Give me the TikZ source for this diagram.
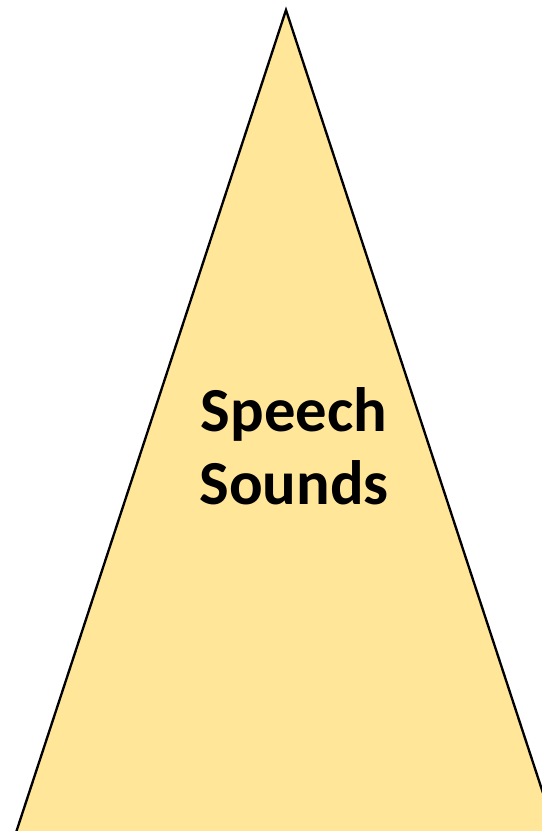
\documentclass[tikz,border=0pt]{standalone}
\usepackage{fontspec}
\setmainfont{Carlito}
\usepackage{tikz}
\usetikzlibrary{positioning,calc}

\begin{document}
\begin{tikzpicture}[
    x=0.75pt, y=-0.75pt,
    layer/.style={draw=black, line width=1.75pt, line join=miter, fill=gold},
    label/.style={font=\bfseries\fontsize{47}{55}\selectfont, align=center, text=black}
]
\definecolor{gold}{HTML}{FFE699}
\useasboundingbox (0,0) rectangle (542,831);
\clip (0,0) rectangle (542,831);
% Triangle
\coordinate (apex) at (286,10);
\coordinate (left) at (7,860);
\coordinate (right) at (565,860);
\filldraw[layer] (apex) -- (right) -- (left) -- cycle;

% Text
\node[label] (speech) at (294,446) {Speech\\Sounds};
\end{tikzpicture}
\end{document}
